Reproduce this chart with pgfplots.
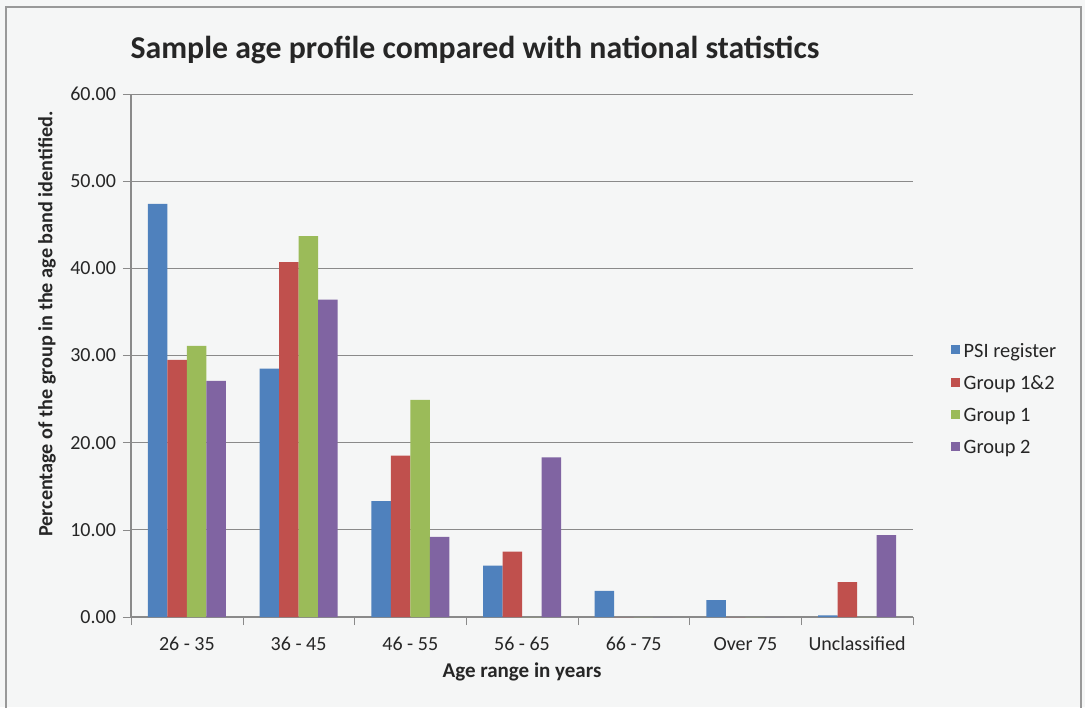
\documentclass[border=0pt]{standalone}
\usepackage{pgfplots}
\pgfplotsset{compat=1.18}
\usepackage{fontspec}
\setmainfont{Carlito}
\definecolor{cblue}{HTML}{4F81BD}
\definecolor{cred}{HTML}{C0504D}
\definecolor{cgreen}{HTML}{9BBB59}
\definecolor{cpurple}{HTML}{8064A2}
\definecolor{gridc}{HTML}{8A8A8A}
\definecolor{bgc}{RGB}{245,246,246}
\begin{document}
\begin{tikzpicture}
\fill[bgc] (-65.5pt,-45pt) rectangle (477pt,308.5pt);
\useasboundingbox (-65.5pt,-45pt) rectangle (477pt,308.5pt);
\draw[gray!80, line width=0.8pt] (-62.5pt,-46pt) -- (-62.5pt,305pt) -- (475pt,305pt) -- (475pt,-46pt);
\begin{axis}[
  at={(0pt,0pt)}, anchor=south west,
  scale only axis, width=391pt, height=261.5pt,
  ybar=0pt, bar width=9.75pt,
  xmin=-0.5, xmax=6.5, ymin=0, ymax=60,
  xtick={0,...,6},
  xticklabels={26 - 35,36 - 45,46 - 55,56 - 65,66 - 75,Over 75,Unclassified},
  major x tick style={draw=none},
  minor xtick={-0.5,0.5,...,6.5},
  minor x tick style={gridc},
  minor tick length=4pt,
  ytick={0,10,...,60},
  major tick length=4pt,
  tick align=outside,
  axis x line*=bottom, axis y line*=left,
  axis line style={gridc, line width=0.6pt},
  ytick style={gridc},
  ymajorgrids, grid style={gridc, line width=0.5pt},
  yticklabel={\pgfmathprintnumber[fixed,fixed zerofill,precision=2]{\tick}},
  /pgf/number format/assume math mode=true,
  tick label style={font=\fontsize{10}{12}\selectfont, text=black!85},
  xticklabel style={yshift=-2.5pt},
  legend style={draw=none, fill=none, at={(1.04,0.415)}, anchor=west,
    font=\fontsize{10.2}{12}\selectfont, row sep=3.8pt, text=black!85},
  legend cell align=left,
  legend image code/.code={\fill[#1] (0pt,-1.2pt) rectangle (4.5pt,3.3pt);},
  every axis plot/.append style={draw=none},
]
\addplot[fill=cblue] coordinates {(0,47.4) (1,28.5) (2,13.3) (3,5.9) (4,3.0) (5,1.95) (6,0.2)};
\addplot[fill=cred] coordinates {(0,29.5) (1,40.7) (2,18.5) (3,7.5) (4,0) (5,0) (6,4.0)};
\addplot[fill=cgreen] coordinates {(0,31.1) (1,43.7) (2,24.9) (3,0) (4,0) (5,0) (6,0)};
\addplot[fill=cpurple] coordinates {(0,27.1) (1,36.4) (2,9.2) (3,18.3) (4,0) (5,0) (6,9.4)};
\legend{PSI register, Group 1\&2, Group 1, Group 2}
\end{axis}
\node[anchor=base, font=\bfseries\fontsize{15.9}{18}\selectfont, text=black!85] at (172pt,279pt) {Sample age profile compared with national statistics};
\node[anchor=base, font=\bfseries\fontsize{10.5}{12}\selectfont, text=black!85] at (195.5pt,-30pt) {Age range in years};
\node[rotate=90, font=\bfseries\fontsize{10.1}{12}\selectfont, text=black!85] at (-42pt,146.5pt) {Percentage of the group in the age band identified.};
\end{tikzpicture}
\end{document}
